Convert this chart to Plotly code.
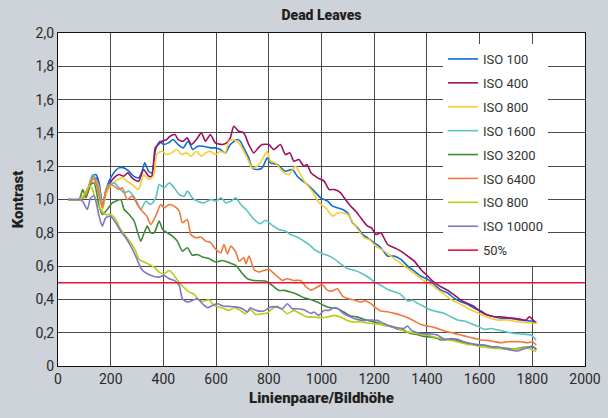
import plotly.graph_objects as go

# ---- data ----
iso100_x = [40, 80, 106, 131, 144, 156, 169, 181, 194, 212, 231, 250, 269, 287, 306, 319, 329, 344, 356, 369, 375, 387, 400, 419, 437, 456, 475, 494, 512, 530, 550, 578, 597, 616, 635, 654, 680, 692, 705, 724, 737, 756, 775, 794, 806, 832, 863, 889, 908, 922, 947, 972, 997, 1023, 1042, 1061, 1080, 1099, 1118, 1137, 1156, 1175, 1200, 1225, 1251, 1276, 1301, 1327, 1352, 1377, 1403, 1428, 1453, 1478, 1504, 1529, 1554, 1580, 1605, 1630, 1656, 1681, 1719, 1757, 1794, 1815]
iso100_y = [1.0, 1.0, 1.03, 1.14, 1.15, 1.10, 0.95, 1.05, 1.11, 1.16, 1.19, 1.19, 1.17, 1.14, 1.13, 1.17, 1.22, 1.17, 1.16, 1.29, 1.32, 1.35, 1.33, 1.34, 1.36, 1.33, 1.31, 1.35, 1.30, 1.32, 1.32, 1.31, 1.31, 1.30, 1.28, 1.33, 1.36, 1.35, 1.31, 1.25, 1.19, 1.18, 1.19, 1.25, 1.22, 1.21, 1.17, 1.18, 1.14, 1.12, 1.09, 1.05, 1.01, 0.99, 0.96, 0.95, 0.94, 0.92, 0.86, 0.83, 0.79, 0.77, 0.74, 0.71, 0.66, 0.66, 0.64, 0.60, 0.57, 0.54, 0.52, 0.49, 0.456, 0.44, 0.406, 0.386, 0.37, 0.346, 0.33, 0.306, 0.296, 0.286, 0.286, 0.276, 0.27, 0.256]

iso400_x = [40, 80, 106, 131, 144, 156, 169, 181, 194, 212, 231, 250, 265, 281, 306, 325, 344, 356, 369, 381, 394, 412, 425, 444, 456, 475, 490, 506, 525, 544, 560, 578, 597, 623, 640, 654, 667, 686, 705, 724, 743, 760, 775, 800, 819, 844, 863, 880, 895, 914, 933, 945, 960, 985, 1010, 1029, 1048, 1073, 1086, 1111, 1130, 1149, 1175, 1190, 1206, 1225, 1251, 1276, 1301, 1327, 1352, 1377, 1403, 1422, 1440, 1453, 1478, 1504, 1529, 1554, 1580, 1605, 1630, 1656, 1681, 1706, 1731, 1757, 1775, 1789, 1800, 1815]
iso400_y = [1.0, 1.0, 1.02, 1.12, 1.13, 1.08, 0.96, 1.04, 1.09, 1.13, 1.15, 1.14, 1.16, 1.13, 1.11, 1.18, 1.14, 1.14, 1.31, 1.33, 1.35, 1.36, 1.38, 1.39, 1.36, 1.35, 1.37, 1.33, 1.36, 1.40, 1.35, 1.39, 1.34, 1.33, 1.34, 1.37, 1.44, 1.41, 1.40, 1.33, 1.28, 1.31, 1.33, 1.33, 1.30, 1.33, 1.27, 1.28, 1.23, 1.24, 1.20, 1.21, 1.16, 1.13, 1.11, 1.06, 1.06, 1.04, 1.01, 0.96, 0.93, 0.89, 0.84, 0.83, 0.79, 0.80, 0.73, 0.71, 0.69, 0.66, 0.63, 0.58, 0.54, 0.51, 0.49, 0.476, 0.456, 0.426, 0.396, 0.376, 0.356, 0.326, 0.306, 0.296, 0.296, 0.29, 0.286, 0.28, 0.275, 0.296, 0.28, 0.26]

iso800_x = [40, 80, 106, 131, 144, 156, 169, 181, 194, 219, 244, 262, 281, 306, 325, 344, 362, 375, 394, 412, 431, 450, 469, 487, 506, 525, 544, 560, 578, 597, 616, 635, 648, 667, 686, 705, 724, 737, 756, 775, 794, 806, 825, 851, 876, 901, 920, 939, 965, 991, 1016, 1042, 1061, 1080, 1099, 1124, 1143, 1162, 1181, 1206, 1238, 1263, 1289, 1314, 1339, 1365, 1390, 1415, 1440, 1466, 1491, 1516, 1541, 1567, 1592, 1618, 1643, 1668, 1706, 1744, 1782, 1815]
iso800_y = [1.0, 1.0, 1.02, 1.12, 1.12, 1.07, 0.94, 1.02, 1.07, 1.11, 1.13, 1.11, 1.09, 1.06, 1.15, 1.12, 1.14, 1.27, 1.29, 1.27, 1.28, 1.30, 1.27, 1.28, 1.26, 1.29, 1.26, 1.28, 1.29, 1.27, 1.29, 1.28, 1.35, 1.36, 1.34, 1.29, 1.23, 1.19, 1.20, 1.24, 1.29, 1.23, 1.22, 1.17, 1.15, 1.20, 1.15, 1.10, 1.05, 0.98, 0.95, 0.90, 0.92, 0.92, 0.91, 0.85, 0.81, 0.77, 0.76, 0.72, 0.69, 0.66, 0.63, 0.60, 0.57, 0.54, 0.51, 0.49, 0.46, 0.43, 0.40, 0.38, 0.36, 0.336, 0.32, 0.30, 0.285, 0.276, 0.276, 0.266, 0.26, 0.256]

iso1600_x = [40, 80, 106, 131, 144, 156, 169, 187, 213, 232, 251, 270, 295, 314, 333, 352, 371, 384, 403, 422, 441, 460, 479, 491, 510, 529, 554, 580, 599, 618, 637, 656, 675, 694, 719, 744, 768, 787, 813, 838, 863, 882, 908, 933, 952, 977, 1003, 1022, 1047, 1072, 1098, 1124, 1148, 1175, 1200, 1225, 1251, 1276, 1300, 1327, 1345, 1365, 1390, 1415, 1440, 1466, 1491, 1516, 1541, 1567, 1592, 1618, 1643, 1668, 1700, 1731, 1760, 1794, 1815]
iso1600_y = [1.0, 1.0, 1.03, 1.15, 1.12, 1.05, 0.96, 1.08, 1.10, 1.07, 1.04, 1.05, 1.00, 0.94, 0.99, 0.97, 1.01, 1.09, 1.07, 1.10, 1.07, 1.03, 1.02, 1.05, 1.01, 0.99, 0.98, 1.00, 0.99, 1.01, 0.98, 0.99, 1.01, 0.97, 0.93, 0.88, 0.855, 0.875, 0.845, 0.82, 0.81, 0.79, 0.775, 0.75, 0.73, 0.695, 0.675, 0.665, 0.645, 0.615, 0.585, 0.575, 0.56, 0.536, 0.505, 0.485, 0.46, 0.446, 0.43, 0.39, 0.395, 0.376, 0.356, 0.336, 0.326, 0.316, 0.296, 0.276, 0.27, 0.256, 0.24, 0.22, 0.225, 0.216, 0.206, 0.196, 0.192, 0.186, 0.156]

iso3200_x = [40, 80, 94, 106, 124, 137, 156, 168, 187, 206, 219, 238, 251, 270, 289, 301, 314, 327, 339, 352, 365, 384, 397, 415, 434, 453, 472, 491, 510, 529, 548, 573, 599, 624, 650, 675, 700, 719, 737, 762, 787, 813, 838, 860, 882, 908, 933, 958, 984, 1009, 1034, 1060, 1085, 1110, 1135, 1161, 1186, 1211, 1237, 1262, 1287, 1313, 1338, 1365, 1389, 1415, 1440, 1453, 1478, 1504, 1529, 1554, 1580, 1605, 1630, 1656, 1681, 1706, 1731, 1757, 1782, 1805, 1815]
iso3200_y = [1.0, 1.0, 1.06, 1.01, 1.09, 1.10, 0.96, 0.91, 0.94, 0.98, 0.99, 1.00, 0.94, 0.91, 0.87, 0.81, 0.75, 0.80, 0.84, 0.80, 0.80, 0.87, 0.82, 0.80, 0.78, 0.75, 0.69, 0.71, 0.665, 0.67, 0.655, 0.645, 0.625, 0.634, 0.62, 0.604, 0.554, 0.524, 0.515, 0.512, 0.51, 0.484, 0.454, 0.454, 0.444, 0.43, 0.41, 0.40, 0.384, 0.364, 0.35, 0.345, 0.324, 0.30, 0.295, 0.28, 0.27, 0.26, 0.245, 0.24, 0.222, 0.215, 0.195, 0.188, 0.178, 0.175, 0.165, 0.156, 0.16, 0.156, 0.146, 0.136, 0.13, 0.126, 0.12, 0.11, 0.106, 0.106, 0.10, 0.11, 0.114, 0.114, 0.10]

iso6400_x = [40, 80, 106, 131, 144, 168, 181, 200, 213, 232, 244, 263, 282, 301, 320, 337, 352, 371, 390, 403, 422, 441, 460, 472, 491, 504, 523, 542, 561, 580, 599, 618, 630, 643, 656, 675, 687, 706, 713, 725, 744, 763, 782, 801, 820, 838, 851, 870, 895, 920, 941, 960, 984, 1003, 1022, 1041, 1060, 1080, 1099, 1124, 1148, 1165, 1186, 1205, 1225, 1251, 1276, 1301, 1327, 1352, 1377, 1403, 1428, 1453, 1478, 1504, 1529, 1554, 1580, 1605, 1630, 1656, 1681, 1706, 1731, 1757, 1782, 1800, 1815]
iso6400_y = [1.0, 1.0, 1.03, 1.13, 1.10, 0.95, 1.05, 1.09, 1.08, 1.06, 1.07, 1.00, 1.02, 0.97, 0.93, 0.90, 0.85, 0.90, 0.97, 0.95, 0.97, 0.96, 0.93, 0.86, 0.88, 0.79, 0.77, 0.775, 0.75, 0.74, 0.70, 0.68, 0.73, 0.675, 0.72, 0.684, 0.63, 0.65, 0.614, 0.66, 0.58, 0.565, 0.575, 0.58, 0.555, 0.53, 0.514, 0.524, 0.514, 0.514, 0.476, 0.456, 0.474, 0.49, 0.456, 0.45, 0.464, 0.42, 0.405, 0.396, 0.384, 0.392, 0.376, 0.35, 0.33, 0.326, 0.316, 0.305, 0.29, 0.27, 0.25, 0.24, 0.232, 0.218, 0.205, 0.196, 0.186, 0.176, 0.166, 0.156, 0.154, 0.146, 0.14, 0.146, 0.146, 0.146, 0.14, 0.146, 0.126]

iso800b_x = [40, 80, 100, 118, 131, 144, 162, 181, 200, 219, 238, 257, 276, 295, 308, 327, 346, 365, 384, 403, 422, 441, 460, 479, 498, 517, 536, 554, 573, 592, 611, 630, 649, 668, 692, 711, 730, 749, 770, 794, 813, 832, 851, 870, 895, 920, 946, 971, 997, 1022, 1047, 1072, 1098, 1124, 1148, 1173, 1199, 1224, 1250, 1275, 1300, 1325, 1351, 1376, 1401, 1427, 1452, 1478, 1504, 1529, 1554, 1580, 1605, 1630, 1656, 1681, 1706, 1731, 1757, 1782, 1800, 1815]
iso800b_y = [1.0, 1.0, 1.03, 1.08, 1.06, 0.99, 0.94, 0.91, 0.91, 0.88, 0.82, 0.78, 0.74, 0.69, 0.64, 0.625, 0.61, 0.594, 0.564, 0.554, 0.574, 0.544, 0.50, 0.47, 0.444, 0.43, 0.394, 0.39, 0.398, 0.364, 0.354, 0.345, 0.334, 0.35, 0.334, 0.314, 0.34, 0.31, 0.312, 0.318, 0.344, 0.358, 0.338, 0.314, 0.334, 0.314, 0.294, 0.294, 0.29, 0.294, 0.304, 0.294, 0.274, 0.264, 0.266, 0.258, 0.254, 0.25, 0.24, 0.235, 0.218, 0.205, 0.198, 0.19, 0.186, 0.174, 0.165, 0.158, 0.15, 0.14, 0.13, 0.126, 0.116, 0.112, 0.106, 0.106, 0.10, 0.10, 0.106, 0.11, 0.096, 0.086]

iso10000_x = [40, 80, 93, 111, 124, 137, 156, 168, 181, 200, 219, 238, 257, 276, 295, 308, 320, 339, 365, 384, 403, 422, 441, 460, 472, 491, 510, 529, 548, 567, 586, 605, 627, 649, 675, 700, 719, 730, 751, 781, 806, 830, 851, 870, 889, 910, 933, 960, 971, 990, 1009, 1028, 1047, 1061, 1085, 1110, 1135, 1161, 1186, 1211, 1237, 1262, 1287, 1313, 1327, 1340, 1365, 1389, 1415, 1440, 1466, 1491, 1516, 1541, 1567, 1592, 1618, 1643, 1668, 1693, 1718, 1744, 1763, 1782, 1800, 1815]
iso10000_y = [1.0, 1.0, 0.99, 0.94, 1.01, 1.02, 0.90, 0.84, 0.89, 0.90, 0.86, 0.81, 0.77, 0.72, 0.66, 0.61, 0.575, 0.554, 0.538, 0.534, 0.544, 0.524, 0.514, 0.484, 0.404, 0.384, 0.394, 0.404, 0.374, 0.35, 0.364, 0.374, 0.36, 0.358, 0.355, 0.344, 0.324, 0.35, 0.334, 0.33, 0.354, 0.355, 0.344, 0.374, 0.344, 0.344, 0.338, 0.316, 0.324, 0.304, 0.334, 0.334, 0.35, 0.346, 0.314, 0.294, 0.28, 0.274, 0.276, 0.274, 0.255, 0.238, 0.23, 0.226, 0.24, 0.216, 0.20, 0.194, 0.192, 0.186, 0.16, 0.165, 0.16, 0.146, 0.135, 0.126, 0.126, 0.116, 0.116, 0.106, 0.096, 0.09, 0.10, 0.11, 0.12, 0.096]

ref_x = [0, 2000]
ref_y = [0.5, 0.5]

names = ["ISO 100", "ISO 400", "ISO 800", "ISO 1600", "ISO 3200", "ISO 6400", "ISO 800", "ISO 10000", "50%"]
colors = ["#0a6ed8", "#9c1060", "#f7cc2e", "#5cc2c2", "#3d8a3a", "#f0793a", "#b3cf16", "#8474c4", "#e3153c"]

x_ticks = list(range(0, 2001, 200))
y_ticks = [0, 0.2, 0.4, 0.6, 0.8, 1.0, 1.2, 1.4, 1.6, 1.8, 2.0]
y_tick_text = ["0", "0,2", "0,4", "0,6", "0,8", "1,0", "1,2", "1,4", "1,6", "1,8", "2,0"]

series = [
    (iso100_x, iso100_y), (iso400_x, iso400_y), (iso800_x, iso800_y),
    (iso1600_x, iso1600_y), (iso3200_x, iso3200_y), (iso6400_x, iso6400_y),
    (iso800b_x, iso800b_y), (iso10000_x, iso10000_y), (ref_x, ref_y),
]

fig = go.Figure()
for i, ((xs, ys), name, col) in enumerate(zip(series, names, colors)):
    fig.add_trace(go.Scatter(
        x=xs, y=ys, mode="lines", name=name, legendgroup="g%d" % i,
        line=dict(color=col, width=1.6, shape="spline", smoothing=0.6),
    ))

tick_font = dict(family="Roboto, Arial, sans-serif", size=14, color="#2a2a2a")
grid_col = "#4a4a4a"
title_font = dict(family="Roboto, Arial, sans-serif", size=15, color="#231f20", weight=900)

fig.update_layout(
    width=608, height=418,
    paper_bgcolor="#cdd3d8", plot_bgcolor="#ffffff",
    margin=dict(l=58, r=23, t=33, b=52, autoexpand=False),
    title=dict(text="Dead Leaves", x=321.5 / 608, xanchor="center",
               y=1 - 15 / 418, yanchor="middle", automargin=False,
               font=dict(family="Roboto, Arial, sans-serif", size=14, color="#231f20", weight=900)),
    showlegend=True,
    legend=dict(x=(443 - 58) / 527, y=(366 - 44) / 333, xanchor="left", yanchor="top",
                bgcolor="#ffffff", borderwidth=0, tracegroupgap=4,
                entrywidth=78, entrywidthmode="pixels",
                font=dict(family="Roboto, Arial, sans-serif", size=13, color="#333333"),
                itemwidth=30),
    xaxis=dict(range=[0, 2000], tickvals=x_ticks, ticks="", showgrid=True, automargin=False,
               gridcolor=grid_col, gridwidth=1, showline=True, linecolor="#111111",
               linewidth=1.2, mirror=True, zeroline=False, tickfont=tick_font,
               title=dict(text="Linienpaare/Bildhöhe", standoff=6, font=title_font)),
    yaxis=dict(range=[0, 2.0], tickvals=y_ticks, ticktext=y_tick_text, ticks="",
               showgrid=True, gridcolor=grid_col, gridwidth=1, showline=True, automargin=False,
               linecolor="#111111", linewidth=1.2, mirror=True, zeroline=False,
               tickfont=tick_font,
               title=dict(text="Kontrast", standoff=8, font=title_font)),
)

fig.write_html("out.html", config={"displayModeBar": False},
               post_script="document.body.style.margin='0px';document.body.style.background='#cdd3d8';")
